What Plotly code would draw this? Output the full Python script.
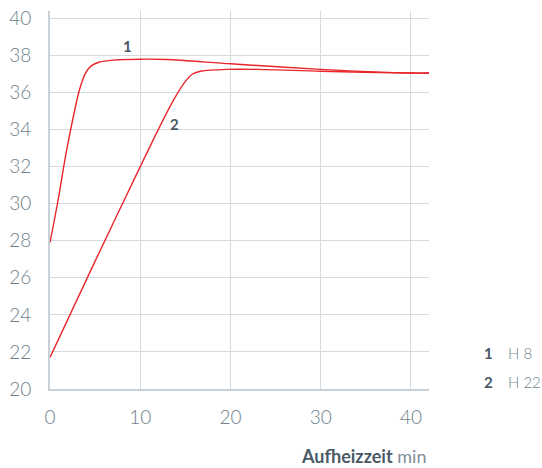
import plotly.graph_objects as go

# Data
x1 = [0, 0.9, 1.85, 3.3, 4.0, 4.6, 5.5, 7, 10, 13, 20, 30, 40, 42]
y1 = [27.9, 30.2, 32.9, 36.2, 37.1, 37.45, 37.65, 37.75, 37.8, 37.78, 37.55, 37.25, 37.05, 37.05]
x2 = [0, 5, 10, 12, 13.7, 15, 15.8, 16.7, 19.6, 23, 30, 40, 42]
y2 = [21.7, 26.9, 32.0, 34.0, 35.6, 36.6, 37.0, 37.15, 37.25, 37.25, 37.15, 37.05, 37.05]
x_ticks = [0, 10, 20, 30, 40]
y_ticks = [20, 22, 24, 26, 28, 30, 32, 34, 36, 38, 40]
legend_nums = ["1", "2"]
legend_names = ["H 8", "H 22"]

RED = "#e8262b"
TICK = "#6d7f8c"
DARK = "#4a5a66"
GRID = "#d3dae0"
FONT = "Lato"

fig = go.Figure()
for xs, ys in [(x1, y1), (x2, y2)]:
    fig.add_trace(go.Scatter(x=xs, y=ys, mode="lines",
                             line=dict(color=RED, width=1.4, shape="spline", smoothing=0.8),
                             hoverinfo="skip", showlegend=False))

fig.add_annotation(x=8.55, y=38.5, text="1", showarrow=False,
                   font=dict(family=FONT, size=15, color=DARK, weight=700))
fig.add_annotation(x=13.8, y=34.3, text="2", showarrow=False,
                   font=dict(family=FONT, size=15, color=DARK, weight=700))

# plot area on screen: x 50..429, y 11..389
PW, PH = 379, 378
for i, (n, name) in enumerate(zip(legend_nums, legend_names)):
    ypx = 353 + i * 29
    fig.add_annotation(xref="paper", yref="paper", x=(488.5 - 50) / PW, y=(389 - ypx) / PH,
                       text=n, showarrow=False, xanchor="center", yanchor="middle",
                       font=dict(family=FONT, size=15, color=DARK, weight=700))
    fig.add_annotation(xref="paper", yref="paper", x=(506 - 50) / PW, y=(389 - ypx) / PH,
                       text=name, showarrow=False, xanchor="left", yanchor="middle",
                       font=dict(family=FONT, size=15, color=TICK, weight=300))

fig.add_annotation(xref="paper", yref="paper", x=(428 - 50) / PW, y=-(456 - 389) / PH,
                   text="<b>Aufheizzeit</b> <span style='color:#7d8d99'>min</span>",
                   showarrow=False, xanchor="right", yanchor="middle",
                   font=dict(family=FONT, size=18, color=DARK, weight=400))

fig.update_layout(
    width=542, height=468,
    margin=dict(l=50, r=113, t=11, b=79),
    paper_bgcolor="white", plot_bgcolor="white",
    font=dict(family=FONT, color=TICK, weight=300),
    xaxis=dict(range=[0, 42], tickvals=x_ticks, showgrid=True, gridcolor=GRID, gridwidth=1.2,
               zeroline=False, showline=True, linecolor="#c9d1d8", linewidth=2,
               tickfont=dict(family=FONT, size=19, color=TICK, weight=300),
               ticks="", ticklabelstandoff=10, automargin=False),
    yaxis=dict(range=[20, 40.4], tickvals=y_ticks, showgrid=True, gridcolor=GRID, gridwidth=1.2,
               zeroline=False, showline=True, linecolor="#c9d1d8", linewidth=2,
               tickfont=dict(family=FONT, size=19, color=TICK, weight=300),
               ticks="", ticklabelstandoff=13, automargin=False),
)

fig.write_html("out.html", config={"displayModeBar": False},
               post_script="document.body.style.margin='0';")
